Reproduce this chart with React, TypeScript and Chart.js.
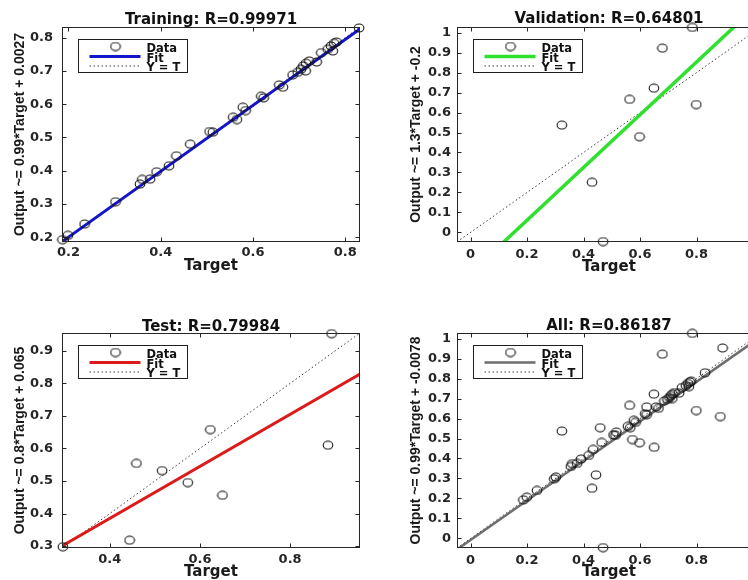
import React, { useEffect, useRef } from "react";
import { Chart, registerables } from "chart.js";

Chart.register(...registerables);

// ---------------- data ----------------
const trainTargets = [
  0.187, 0.199, 0.235, 0.302, 0.355, 0.36, 0.377, 0.391, 0.418, 0.434, 0.464, 0.506,
  0.513, 0.557, 0.565, 0.578, 0.584, 0.618, 0.623, 0.657, 0.665, 0.686, 0.697, 0.704,
  0.709, 0.715, 0.722, 0.714, 0.738, 0.748, 0.762, 0.769, 0.776, 0.781, 0.773, 0.83,
];
const trainOutputs = [
  0.193, 0.206, 0.24, 0.307, 0.36, 0.374, 0.375, 0.397, 0.415, 0.445, 0.48, 0.518,
  0.516, 0.561, 0.554, 0.591, 0.581, 0.624, 0.619, 0.658, 0.651, 0.688, 0.696, 0.705,
  0.715, 0.723, 0.73, 0.7, 0.727, 0.755, 0.765, 0.775, 0.783, 0.787, 0.76, 0.829,
];
const valTargets = [0.323, 0.43, 0.469, 0.563, 0.598, 0.649, 0.679, 0.785, 0.799];
const valOutputs = [0.537, 0.251, -0.046, 0.666, 0.479, 0.722, 0.922, 1.026, 0.64];
const testTargets = [0.296, 0.444, 0.459, 0.516, 0.573, 0.623, 0.65, 0.884, 0.892];
const testOutputs = [0.298, 0.318, 0.554, 0.532, 0.495, 0.658, 0.456, 0.61, 0.953];
const allTargets = [...trainTargets, ...valTargets, ...testTargets];
const allOutputs = [...trainOutputs, ...valOutputs, ...testOutputs];

const panelTitles = [
  "Training: R=0.99971",
  "Validation: R=0.64801",
  "Test: R=0.79984",
  "All: R=0.86187",
];
const yAxisTitles = [
  "Output ~= 0.99*Target + 0.0027",
  "Output ~= 1.3*Target + -0.2",
  "Output ~= 0.8*Target + 0.065",
  "Output ~= 0.99*Target + -0.0078",
];
const xAxisTitle = "Target";
const legendLabels = ["Data", "Fit", "Y = T"];
const fitSlopes = [0.99, 1.32, 0.8, 0.99];
const fitIntercepts = [0.0027, -0.203, 0.065, -0.0078];
const axisMins = [0.186, -0.048, 0.294, -0.048];
const axisMaxs = [0.832, 1.028, 0.955, 1.028];
const xTickSteps = [0.2, 0.2, 0.2, 0.2];
const yTickSteps = [0.1, 0.1, 0.1, 0.1];
const targetSets = [trainTargets, valTargets, testTargets, allTargets];
const outputSets = [trainOutputs, valOutputs, testOutputs, allOutputs];

// ---------------- styles / layout ----------------
const fitColors = ["#1414c8", "#2fe02f", "#dc1a1a", "#6e6e6e"];
const fitWidths = [3, 3.5, 3, 2.5];
const layouts = [
  { left: 0, top: 0, w: 374, h: 290, yW: 62, xH: 33, padR: 14, padB: 15, tTop: 11.5, tBot: -2.5, yTitlePad: 11.6, yTickPad: 9, xTickPad: 3, xTitlePad: 0 },
  { left: 374, top: 0, w: 394, h: 290, yW: 83, xH: 33, padR: 7, padB: 15, tTop: 10, tBot: -1, yTitlePad: 34, yTickPad: 6, xTickPad: 5, xTitlePad: -1 },
  { left: 0, top: 290, w: 374, h: 290, yW: 62, xH: 32, padR: 14, padB: 0, tTop: 27.7, tBot: -2.7, yTitlePad: 12, yTickPad: 9, xTickPad: 4, xTitlePad: -1 },
  { left: 374, top: 290, w: 394, h: 290, yW: 83, xH: 32, padR: 7, padB: 0, tTop: 27, tBot: -2, yTitlePad: 34, yTickPad: 6, xTickPad: 5, xTitlePad: -1 },
];

const HFONT = "'DejaVu Sans', sans-serif";
const VFONT = "'Liberation Sans', Arial, sans-serif";

let markerCache: HTMLCanvasElement | null = null;
function getMarker(): HTMLCanvasElement {
  if (markerCache) return markerCache;
  const c = document.createElement("canvas");
  c.width = 12;
  c.height = 10;
  const g = c.getContext("2d")!;
  g.strokeStyle = "#151515";
  g.lineWidth = 1.1;
  g.beginPath();
  g.ellipse(6, 5, 4.8, 4, 0, 0, Math.PI * 2);
  g.stroke();
  markerCache = c;
  return c;
}

const fmtTick = (v: any) => String(Math.round(Number(v) * 10) / 10);

const axesPlugin = {
  id: "matlabAxes",
  afterDatasetsDraw(chart: any) {
    const { ctx, chartArea: a, scales } = chart;
    ctx.save();
    ctx.strokeStyle = "#262626";
    ctx.lineWidth = 1;
    const L = Math.round(a.left) + 0.5;
    const R = Math.round(a.right) - 0.5;
    const T = Math.round(a.top) + 0.5;
    const B = Math.round(a.bottom) - 0.5;
    ctx.strokeRect(L, T, R - L, B - T);
    const tl = 4;
    ctx.beginPath();
    for (const t of scales.x.ticks) {
      const px = Math.round(scales.x.getPixelForValue(t.value)) + 0.5;
      ctx.moveTo(px, B);
      ctx.lineTo(px, B - tl);
      ctx.moveTo(px, T);
      ctx.lineTo(px, T + tl);
    }
    for (const t of scales.y.ticks) {
      const py = Math.round(scales.y.getPixelForValue(t.value)) + 0.5;
      ctx.moveTo(L, py);
      ctx.lineTo(L + tl, py);
      ctx.moveTo(R, py);
      ctx.lineTo(R - tl, py);
    }
    ctx.stroke();

    // legend box (MATLAB style, inside the axes)
    const ds = chart.data.datasets;
    const x0 = Math.round(a.left + 16) + 0.5;
    const y0 = Math.round(a.top + 11.5) + 0.5;
    const w = 109;
    const h = 33;
    ctx.fillStyle = "#ffffff";
    ctx.fillRect(x0, y0, w, h);
    ctx.strokeStyle = "#1e1e1e";
    ctx.strokeRect(x0, y0, w, h);
    const m = getMarker();
    ctx.drawImage(m, x0 + 37 - 6, y0 + 7 - 5);
    ctx.beginPath();
    ctx.strokeStyle = ds[1].borderColor;
    ctx.lineWidth = ds[1].borderWidth;
    ctx.moveTo(x0 + 11, y0 + 17);
    ctx.lineTo(x0 + 62, y0 + 17);
    ctx.stroke();
    ctx.beginPath();
    ctx.strokeStyle = ds[2].borderColor;
    ctx.lineWidth = 1;
    ctx.setLineDash(ds[2].borderDash);
    ctx.moveTo(x0 + 11, y0 + 26.5);
    ctx.lineTo(x0 + 62, y0 + 26.5);
    ctx.stroke();
    ctx.setLineDash([]);
    ctx.fillStyle = "#111";
    ctx.font = `bold 11.5px ${HFONT}`;
    ctx.textAlign = "left";
    ctx.textBaseline = "alphabetic";
    ctx.fillText(ds[0].label, x0 + 68, y0 + 12.7);
    ctx.fillText(ds[1].label, x0 + 68, y0 + 22.3);
    ctx.fillText(ds[2].label, x0 + 68, y0 + 31.8);
    ctx.restore();
  },
};

function makeConfig(i: number): any {
  const lo = axisMins[i];
  const hi = axisMaxs[i];
  const L = layouts[i];
  const pts = targetSets[i].map((t, k) => ({ x: t, y: outputSets[i][k] }));
  const fitLine = [
    { x: lo, y: fitSlopes[i] * lo + fitIntercepts[i] },
    { x: hi, y: fitSlopes[i] * hi + fitIntercepts[i] },
  ];
  const idLine = [
    { x: lo, y: lo },
    { x: hi, y: hi },
  ];
  const tickFont = { family: HFONT, size: 13, weight: "bold" as const, lineHeight: 1.2 };
  return {
    type: "scatter",
    data: {
      datasets: [
        {
          label: legendLabels[0],
          data: pts,
          pointStyle: getMarker(),
          pointRadius: 5,
          pointHoverRadius: 5,
          borderColor: "#151515",
          backgroundColor: "rgba(0,0,0,0)",
          showLine: false,
          clip: false,
        },
        {
          label: legendLabels[1],
          data: fitLine,
          showLine: true,
          pointRadius: 0,
          borderColor: fitColors[i],
          borderWidth: fitWidths[i],
          clip: 0,
        },
        {
          label: legendLabels[2],
          data: idLine,
          showLine: true,
          pointRadius: 0,
          borderColor: "#3a3a3a",
          borderWidth: 1,
          borderDash: [1.5, 2.5],
          clip: 0,
        },
      ],
    },
    options: {
      animation: false,
      responsive: false,
      maintainAspectRatio: false,
      events: [],
      layout: { padding: { left: 0, top: 0, right: L.padR, bottom: L.padB } },
      plugins: {
        legend: { display: false },
        tooltip: { enabled: false },
        title: {
          display: true,
          text: panelTitles[i],
          fullSize: false,
          color: "#111",
          font: { family: HFONT, size: 15, weight: "bold", lineHeight: 1.2 },
          padding: { top: L.tTop, bottom: L.tBot },
        },
      },
      scales: {
        x: {
          type: "linear",
          position: "bottom",
          min: lo,
          max: hi,
          grid: { display: false, drawTicks: false, tickLength: 0 },
          border: { display: false },
          ticks: {
            stepSize: xTickSteps[i],
            includeBounds: false,
            autoSkip: false,
            maxRotation: 0,
            minRotation: 0,
            padding: L.xTickPad,
            color: "#262626",
            font: tickFont,
            callback: fmtTick,
          },
          title: {
            display: true,
            text: xAxisTitle,
            color: "#1a1a1a",
            font: { family: HFONT, size: 15, weight: "bold", lineHeight: 1.2 },
            padding: { top: 0, bottom: L.xTitlePad },
          },
          afterFit: (s: any) => {
            s.height = L.xH;
            s.paddingLeft = 0;
            s.paddingRight = 0;
          },
        },
        y: {
          type: "linear",
          position: "left",
          min: lo,
          max: hi,
          grid: { display: false, drawTicks: false, tickLength: 0 },
          border: { display: false },
          ticks: {
            stepSize: yTickSteps[i],
            includeBounds: false,
            autoSkip: false,
            padding: L.yTickPad,
            color: "#262626",
            font: tickFont,
            callback: fmtTick,
          },
          title: {
            display: true,
            text: yAxisTitles[i],
            color: "#1a1a1a",
            font: { family: VFONT, size: 14, weight: "bold", lineHeight: 1.2 },
            padding: { top: L.yTitlePad, bottom: 0 },
          },
          afterFit: (s: any) => {
            s.width = L.yW;
            s.paddingTop = 0;
            s.paddingBottom = 0;
          },
        },
      },
    },
    plugins: [axesPlugin],
  };
}

function Panel({ index }: { index: number }) {
  const ref = useRef<HTMLCanvasElement>(null);
  const L = layouts[index];
  useEffect(() => {
    if (!ref.current) return;
    const chart = new Chart(ref.current, makeConfig(index));
    return () => chart.destroy();
  }, [index]);
  return (
    <canvas
      ref={ref}
      width={L.w}
      height={L.h}
      style={{ position: "absolute", left: L.left, top: L.top, width: L.w, height: L.h }}
    />
  );
}

export default function App() {
  return (
    <div
      style={{
        position: "fixed",
        left: 0,
        top: 0,
        width: 748,
        height: 580,
        overflow: "hidden",
        background: "#ffffff",
      }}
    >
      {[0, 1, 2, 3].map((i) => (
        <Panel key={i} index={i} />
      ))}
    </div>
  );
}
